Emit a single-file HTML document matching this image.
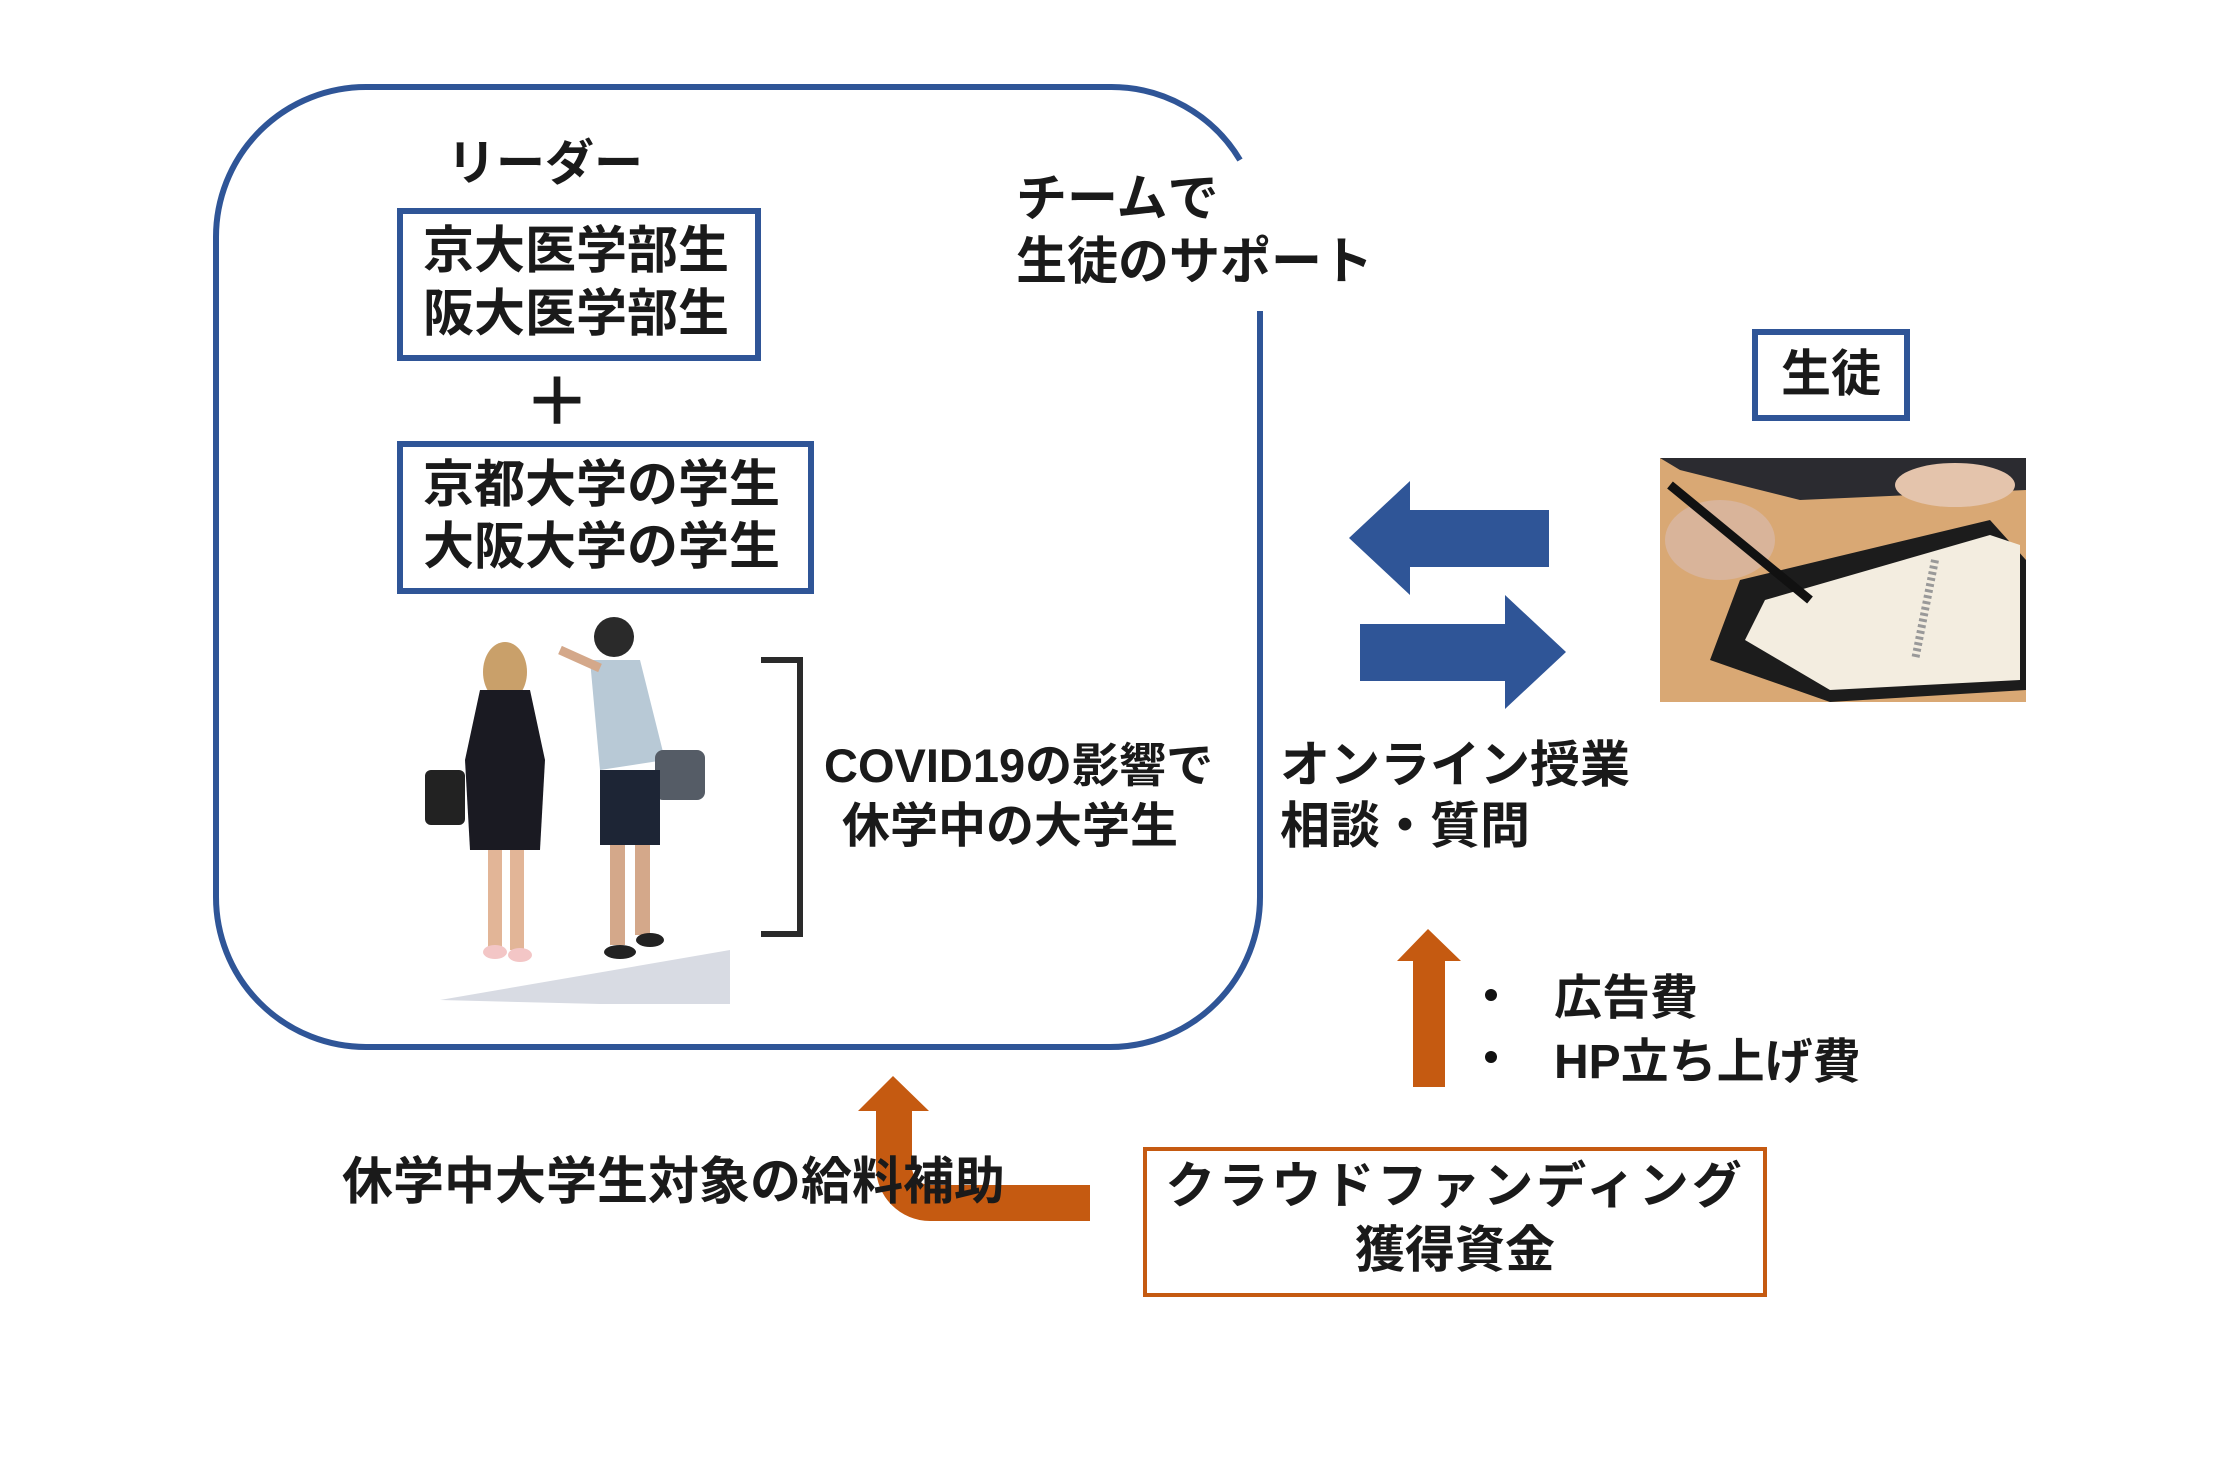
<!DOCTYPE html>
<html><head><meta charset="utf-8"><style>
html,body{margin:0;padding:0;background:#fff;}
svg{display:block;}
text{font-family:"Liberation Sans","Noto Sans CJK JP",sans-serif;font-weight:bold;fill:#1a1a1a;}
</style></head><body>
<svg width="2222" height="1481" viewBox="0 0 2222 1481" xmlns="http://www.w3.org/2000/svg">
<rect width="2222" height="1481" fill="#fff"/>
<path d="M1240,160 A150,150 0 0 0 1110,87 L366,87 A150,150 0 0 0 216,237 L216,897 A150,150 0 0 0 366,1047 L1110,1047 A150,150 0 0 0 1260,897 L1260,311" fill="none" stroke="#2F5597" stroke-width="6"/>
<text x="447" y="180" font-size="49">リーダー</text>
<rect x="400" y="211" width="358" height="147" fill="none" stroke="#2F5597" stroke-width="6"/>
<text x="423" y="268" font-size="51">京大医学部生</text>
<text x="423" y="331" font-size="51">阪大医学部生</text>
<text x="557" y="425" font-size="66" text-anchor="middle" font-weight="normal">＋</text>
<rect x="400" y="444" width="411" height="147" fill="none" stroke="#2F5597" stroke-width="6"/>
<text x="423" y="502" font-size="51">京都大学の学生</text>
<text x="423" y="564" font-size="51">大阪大学の学生</text>
<g>
<polygon points="440,1000 730,950 730,1004 600,1004" fill="#d8dbe3"/>
<ellipse cx="505" cy="672" rx="22" ry="30" fill="#c9a06a"/>
<path d="M480,690 L530,690 L545,760 L540,850 L470,850 L465,760Z" fill="#1a1a22"/>
<rect x="425" y="770" width="40" height="55" rx="6" fill="#222"/>
<rect x="488" y="850" width="14" height="100" fill="#e2b597"/>
<rect x="510" y="850" width="14" height="100" fill="#e2b597"/>
<ellipse cx="495" cy="952" rx="12" ry="7" fill="#f3c6c6"/>
<ellipse cx="520" cy="955" rx="12" ry="7" fill="#f3c6c6"/>
<circle cx="614" cy="637" r="20" fill="#2a2a2a"/>
<path d="M590,660 L640,660 L665,760 L600,770 Z" fill="#b8c9d6"/>
<line x1="600" y1="668" x2="560" y2="650" stroke="#d4a88a" stroke-width="9"/>
<rect x="655" y="750" width="50" height="50" rx="8" fill="#555c66"/>
<rect x="600" y="770" width="60" height="75" fill="#1d2535"/>
<rect x="610" y="845" width="15" height="100" fill="#d4a88a"/>
<rect x="635" y="845" width="15" height="90" fill="#d4a88a"/>
<ellipse cx="620" cy="952" rx="16" ry="7" fill="#222"/>
<ellipse cx="650" cy="940" rx="14" ry="7" fill="#222"/>
</g>
<path d="M761,660 L800,660 L800,934 L761,934" fill="none" stroke="#2a2a2a" stroke-width="6"/>
<text x="824" y="782" font-size="47">COVID19の影響で</text>
<text x="842" y="842" font-size="48">休学中の大学生</text>
<text x="1016" y="216" font-size="51">チームで</text>
<text x="1016" y="279" font-size="51">生徒のサポート</text>
<rect x="1755" y="332" width="152" height="86" fill="none" stroke="#2F5597" stroke-width="6"/>
<text x="1831" y="391" font-size="50" text-anchor="middle">生徒</text>
<g>
<rect x="1660" y="458" width="366" height="244" fill="#d9a874"/>
<polygon points="1660,458 2026,458 2026,490 1800,500 1680,470" fill="#2b2b30"/>
<polygon points="1740,580 1990,520 2026,560 2026,690 1830,702 1710,660" fill="#1c1c1c"/>
<polygon points="1765,600 1990,535 2020,545 2020,680 1830,690 1745,640" fill="#f3ede0"/>
<line x1="1935" y1="560" x2="1915" y2="660" stroke="#999" stroke-width="8" stroke-dasharray="3,3"/>
<ellipse cx="1720" cy="540" rx="55" ry="40" fill="#d9b49a"/>
<ellipse cx="1955" cy="485" rx="60" ry="22" fill="#e4c4ac"/>
<line x1="1670" y1="485" x2="1810" y2="600" stroke="#111" stroke-width="9"/>
</g>
<polygon points="1349,538 1410,481 1410,510 1549,510 1549,567 1410,567 1410,595" fill="#2F5597"/>
<polygon points="1566,652 1505,595 1505,624 1360,624 1360,681 1505,681 1505,709" fill="#2F5597"/>
<text x="1280" y="782" font-size="50">オンライン授業</text>
<text x="1280" y="843" font-size="50">相談・質問</text>
<polygon points="1428,929 1461,961 1445,961 1445,1087 1413,1087 1413,961 1397,961" fill="#C55A11"/>
<circle cx="1491" cy="995" r="6" fill="#111"/>
<circle cx="1491" cy="1057" r="6" fill="#111"/>
<text x="1554" y="1014" font-size="48">広告費</text>
<text x="1554" y="1078" font-size="48">HP立ち上げ費</text>
<rect x="1145" y="1149" width="620" height="146" fill="none" stroke="#C55A11" stroke-width="4"/>
<text x="1455" y="1203" font-size="50" text-anchor="middle" letter-spacing="3">クラウドファンディング</text>
<text x="1455" y="1267" font-size="50" text-anchor="middle">獲得資金</text>
<path d="M876,1111 L876,1167 A54,54 0 0 0 930,1221 L1090,1221 L1090,1185 L930,1185 A18,18 0 0 1 912,1167 L912,1111 L929,1111 L893,1076 L858,1111 Z" fill="#C55A11"/>
<text x="342" y="1199" font-size="51">休学中大学生対象の給料補助</text>
</svg>
</body></html>
